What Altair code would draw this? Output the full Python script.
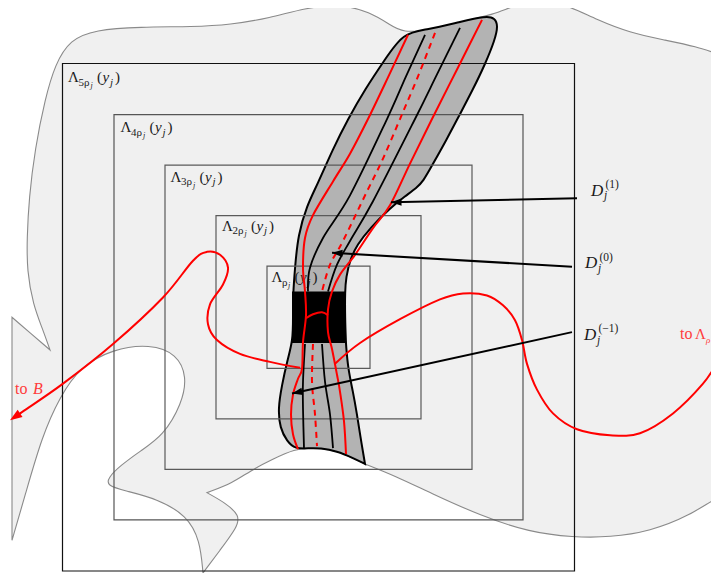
import math
import altair as alt
import pandas as pd

# ---------------- data (sketch coordinates, y grows downward) ----------------
blob_x = [140, 193, 230, 270, 305, 340, 370, 390, 403, 430, 460, 493, 520, 543, 567, 597, 630, 663, 697, 719,
          745, 745, 745, 745, 745, 745, 719, 690, 650, 610, 573, 530, 480, 430, 395, 365, 365, 365, 353, 337, 320,
          310, 295, 273, 250, 233, 207, 207, 207, 225, 240, 237, 220, 203, 203, 203, 200, 187, 157, 125, 107, 108,
          120, 140, 163, 182, 187, 177, 150, 113, 80, 60, 42, 25, 12, 12, 12, 12, 12, 12, 50, 50, 50, 43, 33, 27,
          27, 29, 35, 45, 55, 70, 95]
blob_y = [27, 27, 25, 18, 8, 4, 12, 25, 33, 30, 22, 15, 3, 0, 5, 20, 33, 40, 47, 55,
          62, 62, 62, 490, 490, 490, 500, 520, 536, 542, 542, 537, 520, 497, 480, 468, 468, 468, 462, 455, 452,
          452, 453, 463, 475, 487, 497, 497, 497, 507, 520, 532, 555, 578, 578, 578, 545, 520, 503, 495, 490, 482,
          470, 455, 440, 407, 380, 357, 347, 352, 370, 400, 440, 500, 545, 545, 545, 320, 320, 320, 353, 353, 353,
          333, 307, 273, 240, 200, 150, 100, 65, 40, 30]

tube_x = [403, 427, 460, 486, 495, 498, 495, 485, 473, 460, 447, 432, 423, 417, 405, 390, 370, 357, 350, 346,
          345, 345, 346, 346, 348, 353, 357, 360, 365, 365, 365, 353, 337, 320, 310, 295, 287, 280, 278, 282, 287,
          293, 293, 293, 295, 298, 307, 317, 333, 348, 365, 385]
tube_y = [33, 30, 22, 16, 18, 26, 40, 65, 90, 115, 140, 167, 183, 189, 198, 210, 230, 247, 262, 280,
          294, 320, 347, 347, 372, 395, 418, 438, 468, 468, 468, 462, 455, 452, 452, 453, 445, 432, 412, 388, 365,
          343, 320, 297, 270, 237, 207, 187, 150, 120, 90, 60]

box_x, box_x2, box_y, box_y2 = [292], [346], [294], [346]

sq_cx, sq_cy = 318.5, 320
sq_half = [51.5, 102.5, 153.5, 204.5, 256]
sq_names = ["", "2", "3", "4", "5"]
sq_label_dx = [4.5, 6, 5.5, 6.5, 5.5]
sq_label_dy = [16, 15, 17, 18, 19]

# tube strands
red_solid = {
    "L": ([408, 388, 368, 350, 333, 313, 305, 303, 305, 306, 303, 302, 298, 293, 291, 293, 298],
          [35, 78, 120, 155, 183, 217, 240, 270, 294, 318, 345, 372, 382, 398, 418, 438, 453]),
    "R": ([482, 457, 432, 410, 390, 373, 355, 340, 332, 328, 328, 332, 337, 340, 344, 346],
          [20, 70, 120, 165, 207, 230, 257, 277, 294, 312, 335, 352, 378, 395, 425, 458]),
    "bridge": ([306, 313, 322, 328], [321, 317, 315, 318]),
    "left": ([300, 270, 240, 217, 208, 210, 223, 228, 220, 207, 193, 163, 113, 63, 23, 13],
             [371, 365, 357, 343, 327, 307, 287, 270, 257, 254, 263, 300, 347, 387, 415, 422]),
    "right": ([335, 360, 400, 440, 463, 487, 503, 515, 522, 527, 537, 553, 577, 610, 640, 673, 703, 719, 735],
              [367, 346, 322, 302, 296, 298, 308, 323, 343, 367, 393, 417, 433, 439, 437, 417, 387, 363, 338]),
}
red_dashed = {
    "up": ([435, 418, 400, 383, 367, 343, 330, 322], [33, 77, 120, 160, 193, 243, 267, 294]),
    "down": ([313, 312, 315, 317], [347, 385, 418, 450]),
}
black_strands = {
    "b1u": ([425, 406, 387, 350, 323, 310, 308], [35, 77, 120, 197, 240, 270, 294]),
    "b1d": ([305, 303, 303, 304], [347, 385, 412, 452]),
    "b2u": ([460, 437, 415, 373, 350, 337, 328], [28, 75, 120, 203, 243, 267, 294]),
    "b2d": ([322, 325, 330, 333], [347, 385, 418, 452]),
}

# arrows: start -> tip
arrows_black = [((577, 200), (391, 204)), ((572, 269), (332, 255)), ((572, 335), (292, 397))]
arrow_red_tip = ((23, 415), (10, 424))

# ---------------- helpers ----------------
XS = alt.Scale(domain=[8, 711])
YS = alt.Scale(domain=[8, 578], reverse=True)


def xy(**kw):
    return dict(x=alt.X("x:Q", scale=XS, axis=None), y=alt.Y("y:Q", scale=YS, axis=None), **kw)


def path_df(d):
    rows = []
    for k, (px, py) in d.items():
        for i, (a, b) in enumerate(zip(px, py)):
            rows.append({"id": k, "i": i, "x": a, "y": b})
    return pd.DataFrame(rows)


def poly_df(px, py):
    return pd.DataFrame({"i": range(len(px)), "x": px, "y": py})


layers = []

# background blob
layers.append(alt.Chart(poly_df(blob_x, blob_y)).mark_line(
    interpolate="basis-closed", fill="#f0f0f0", stroke="#8a8a8a", strokeWidth=1.1, clip=True
).encode(**xy(order="i:Q")))

# tube
layers.append(alt.Chart(poly_df(tube_x, tube_y)).mark_line(
    interpolate="basis-closed", fill="#b3b3b3", stroke="black", strokeWidth=2, clip=True
).encode(**xy(order="i:Q")))

# nested squares
sq = pd.DataFrame({
    "x": [sq_cx - h for h in sq_half], "x2": [sq_cx + h for h in sq_half],
    "y": [sq_cy - h for h in sq_half], "y2": [sq_cy + h for h in sq_half],
    "c": ["#5a5a5a", "#5a5a5a", "#5a5a5a", "#555555", "#111111"],
})
layers.append(alt.Chart(sq).mark_rect(fill=None, strokeWidth=1.2, clip=True).encode(
    x=alt.X("x:Q", scale=XS, axis=None), x2="x2:Q",
    y=alt.Y("y:Q", scale=YS, axis=None), y2="y2:Q",
    stroke=alt.Stroke("c:N", scale=None)))

# text pieces
normal, italic = [], []


def add(lst, t, x, y, s, c="#1a1a1a"):
    lst.append({"t": t, "x": x, "y": y, "s": s, "c": c})


for h, nm, dx, dy in zip(sq_half, sq_names, sq_label_dx, sq_label_dy):
    x0, b = sq_cx - h + dx, sq_cy - h + dy
    w = 6 if nm else 0
    add(normal, "Λ", x0, b, 15)
    add(normal, nm + "ρ", x0 + 10.5, b + 3.5, 11)
    add(italic, "j", x0 + 16.5 + w, b + 6, 8)
    add(normal, "(", x0 + 23 + w, b, 15)
    add(italic, "y", x0 + 28.5 + w, b, 15)
    add(italic, "j", x0 + 36 + w, b + 3.5, 11)
    add(normal, ")", x0 + 41 + w, b, 15)

D_sup = ["(1)", "(0)", "(−1)"]
D_pos = [(591, 198, 190, 201), (585, 270.5, 263, 274.5), (584, 343, 335, 346.5)]
for sup, (dx, db, sb, jb) in zip(D_sup, D_pos):
    add(italic, "D", dx, db, 17)
    add(normal, sup, dx + 14.5, sb, 11.5)
    add(italic, "j", dx + 13, jb, 11.5)

RED_T = "#ff3b3b"
add(normal, "to", 15, 397, 16, RED_T)
add(italic, "B", 33, 397, 16, RED_T)
add(normal, "to", 680, 342, 16, RED_T)
add(normal, "Λ", 695, 342, 15, RED_T)
add(italic, "ρ", 706, 345.5, 9, RED_T)


def text_layer(rows, style):
    return alt.Chart(pd.DataFrame(rows)).mark_text(
        align="left", baseline="alphabetic", font="Liberation Serif", fontStyle=style
    ).encode(**xy(text="t:N", size=alt.Size("s:Q", scale=None), color=alt.Color("c:N", scale=None)))


# labels of squares go under the strands
layers.append(text_layer(normal, "normal"))
layers.append(text_layer(italic, "italic"))

# black strands
layers.append(alt.Chart(path_df(black_strands)).mark_line(
    interpolate="cardinal", color="black", strokeWidth=1.8
).encode(**xy(order="i:Q", detail="id:N")))

# black box
layers.append(alt.Chart(pd.DataFrame({"x": box_x, "x2": box_x2, "y": box_y, "y2": box_y2})).mark_rect(
    color="black").encode(x=alt.X("x:Q", scale=XS, axis=None), x2="x2:Q",
                          y=alt.Y("y:Q", scale=YS, axis=None), y2="y2:Q"))

# red curves
layers.append(alt.Chart(path_df(red_solid)).mark_line(
    interpolate="cardinal", color="#ff0000", strokeWidth=2, clip=True
).encode(**xy(order="i:Q", detail="id:N")))
layers.append(alt.Chart(path_df(red_dashed)).mark_line(
    interpolate="cardinal", color="#ff0000", strokeWidth=2, strokeDash=[6, 5]
).encode(**xy(order="i:Q", detail="id:N")))

# black arrows
shaft = []
heads = []
for k, ((x1, y1), (x2, y2)) in enumerate(arrows_black):
    shaft += [{"id": k, "i": 0, "x": x1, "y": y1}, {"id": k, "i": 1, "x": x2, "y": y2}]
    heads.append({"x": x2, "y": y2, "a": math.degrees(math.atan2(y2 - y1, x2 - x1)) % 360, "c": "black", "s": 110})
(rx1, ry1), (rx2, ry2) = arrow_red_tip
heads.append({"x": rx2, "y": ry2, "a": math.degrees(math.atan2(ry2 - ry1, rx2 - rx1)) % 360, "c": "#ff0000", "s": 150})

layers.append(alt.Chart(pd.DataFrame(shaft)).mark_line(color="black", strokeWidth=2).encode(
    **xy(order="i:Q", detail="id:N")))
layers.append(alt.Chart(pd.DataFrame(heads)).mark_point(
    shape="M0,0L-2,-0.7L-2,0.7Z", filled=True, opacity=1, strokeWidth=0
).encode(**xy(angle=alt.Angle("a:Q", scale=None), color=alt.Color("c:N", scale=None),
              size=alt.Size("s:Q", scale=None))))

chart = alt.layer(*layers).properties(
    width=703, height=565, padding=0, autosize=alt.AutoSizeParams(type="none"), background="white"
).configure_view(stroke=None)

chart.save("out.html", embed_options={"renderer": "svg", "actions": False})
